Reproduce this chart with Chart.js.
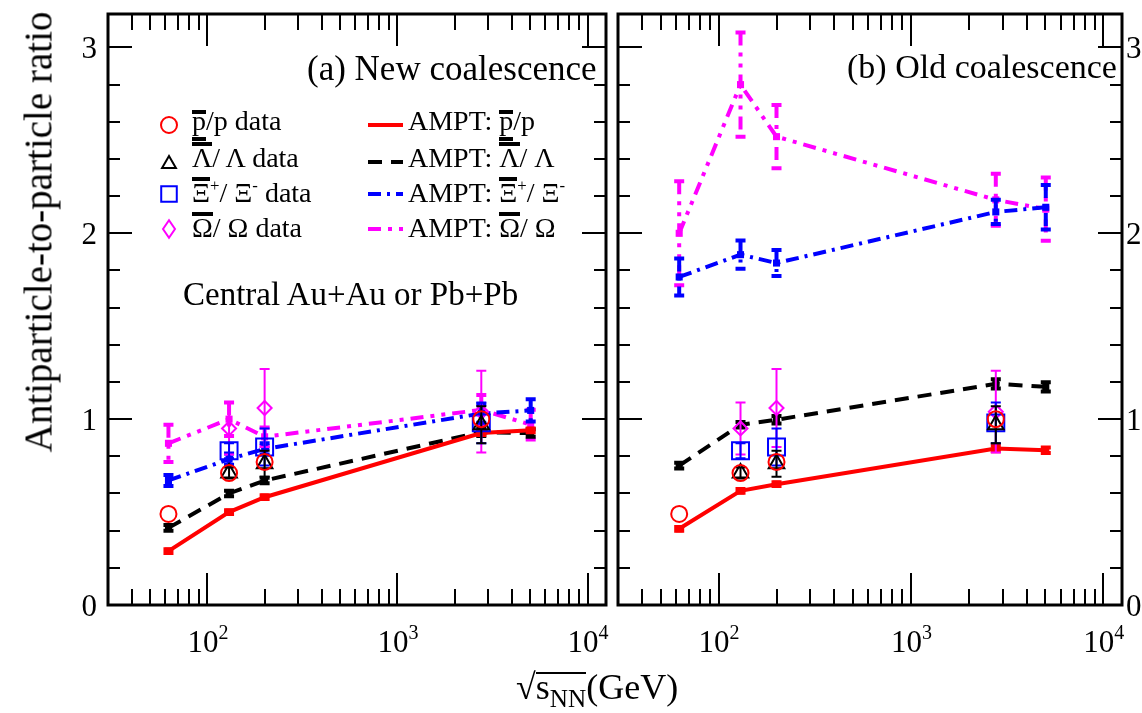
<!DOCTYPE html>
<html>
<head>
<meta charset="utf-8">
<title>Antiparticle-to-particle ratio</title>
<script src="https://cdn.jsdelivr.net/npm/chart.js@4.4.1/dist/chart.umd.min.js"></script>
<style>
  html, body { margin:0; padding:0; background:#fff; }
  body { position:relative; width:1142px; height:713px; overflow:hidden;
         font-family:'Liberation Serif','Times New Roman',serif; color:#000; }
  .panel { position:absolute; top:0; height:713px; }
  #panelA { left:0; width:620px; }
  #panelB { left:604px; width:538px; }
  .txt { position:absolute; white-space:nowrap; line-height:1; }
  .lg { font-size:28px; }
  /* thick bar over a symbol */
  .ob { display:inline-block; line-height:0.85em; border-top:4px solid #000; }
  /* the p-bar gets a bar above and one below, as in the original */
  .obp { display:inline-block; line-height:0.5em; border-top:4px solid #000; border-bottom:4px solid #000; padding-bottom:9px; }
  .root { display:inline-block; line-height:0.75em; border-top:2px solid #000; }
  sup { font-size:60%; vertical-align:0.65em; line-height:0; }
  sub { font-size:70%; vertical-align:-0.3em; line-height:0; }
</style>
</head>
<body>
<div class="panel" id="panelA"><canvas id="chartA"></canvas></div>
<div class="panel" id="panelB"><canvas id="chartB"></canvas></div>

<div class="txt" style="left:307px;top:51px;font-size:35px">(a) New coalescence</div>
<div class="txt" style="left:847px;top:50px;font-size:34px">(b) Old coalescence</div>
<div class="txt" style="left:183px;top:278px;font-size:33px">Central Au+Au or Pb+Pb</div>

<div class="txt lg" style="left:192px;top:107px"><span class="obp">p</span>/p data</div>
<div class="txt lg" style="left:192px;top:142px"><span class="ob">Λ</span>/ Λ data</div>
<div class="txt lg" style="left:192px;top:177px"><span class="ob">Ξ</span><sup>+</sup>/ Ξ<sup>-</sup> data</div>
<div class="txt lg" style="left:192px;top:212px"><span class="ob">Ω</span>/ Ω data</div>
<div class="txt lg" style="left:408px;top:107px">AMPT: <span class="obp">p</span>/p</div>
<div class="txt lg" style="left:408px;top:142px">AMPT: <span class="ob">Λ</span>/ Λ</div>
<div class="txt lg" style="left:408px;top:177px">AMPT: <span class="ob">Ξ</span><sup>+</sup>/ Ξ<sup>-</sup></div>
<div class="txt lg" style="left:408px;top:212px">AMPT: <span class="ob">Ω</span>/ Ω</div>

<div class="txt" style="left:38px;top:232px;font-size:39px;transform:translate(-50%,-50%) rotate(-90deg)">Antiparticle-to-particle ratio</div>
<div class="txt" style="left:516px;top:669px;font-size:36px">√<span class="root">s<sub>NN</sub></span>(GeV)</div>

<script>
// collision energies (GeV)
const energies = [62.4, 130, 200, 2760, 5020];

// measured ratios, same in both panels
const pbarData = [0.49, 0.71, 0.77, 1.0, null];
const pbarErr  = [0, 0, 0, 0, null];
const lamData  = [null, 0.71, 0.76, 0.97, null];
const lamErr   = [null, 0.03, 0.07, 0.1, null];
const xiData   = [null, 0.83, 0.85, 0.98, null];
const xiErr    = [null, 0.04, 0.1, 0.11, null];
const omData   = [null, 0.95, 1.06, 1.04, null];
const omErr    = [null, 0.14, 0.21, 0.22, null];

// AMPT, new coalescence
const newP    = [0.29, 0.50, 0.58, 0.925, 0.94];
const newPErr = [0.01, 0.01, 0.01, 0.01, 0.01];
const newL    = [0.415, 0.60, 0.67, 0.93, 0.925];
const newLErr = [0.015, 0.015, 0.015, 0.02, 0.02];
const newX    = [0.67, 0.785, 0.84, 1.03, 1.047];
const newXErr = [0.03, 0.03, 0.03, 0.05, 0.06];
const newO    = [0.87, 1.0, 0.905, 1.05, 0.97];
const newOErr = [0.1, 0.09, 0.05, 0.08, 0.08];

// AMPT, old coalescence
const oldP    = [0.41, 0.614, 0.65, 0.842, 0.833];
const oldPErr = [0.01, 0.01, 0.01, 0.015, 0.015];
const oldL    = [0.75, 0.97, 0.997, 1.19, 1.174];
const oldLErr = [0.015, 0.015, 0.02, 0.025, 0.025];
const oldX    = [1.765, 1.885, 1.84, 2.115, 2.14];
const oldXErr = [0.1, 0.076, 0.07, 0.065, 0.12];
const oldO    = [2.0, 2.80, 2.52, 2.18, 2.13];
const oldOErr = [0.28, 0.28, 0.17, 0.14, 0.17];

// axes
const yLabels = ['0', '1', '2', '3'];
const yMinorStep = 0.2;
const xMajor = [100, 1000, 10000];
const xExp = ['2', '3', '4'];
const xDecades = [10, 100, 1000, 10000];

const RED = '#ff0000', BLACK = '#000000', BLUE = '#0000ff', MAG = '#ff00ff';
const dashL = [14, 9], dashX = [13, 6, 3, 6], dashO = [13, 7, 4, 7, 4, 7];

function pts(vals) {
  return energies.map((e, i) => ({x: e, y: vals[i]}));
}

function dataSet(label, vals, errs, color, style, r) {
  return {
    label, data: pts(vals), errs, errWidth: 2, cap: 5, showLine: false,
    borderColor: color, backgroundColor: 'rgba(0,0,0,0)',
    pointStyle: style, pointRadius: r, pointBorderWidth: 2,
    pointBorderColor: color, pointBackgroundColor: 'rgba(0,0,0,0)', order: 1
  };
}

function amptSet(label, vals, errs, color, dash) {
  return {
    label, data: pts(vals), errs, errWidth: 4, cap: 5, showLine: true,
    borderColor: color, backgroundColor: color, borderWidth: 4, borderDash: dash,
    pointStyle: 'rect', pointRadius: 5, pointBorderWidth: 0,
    pointBackgroundColor: color, tension: 0, order: 2
  };
}

function dataSets() {
  return [
    dataSet('pbar/p data', pbarData, pbarErr, RED, 'circle', 8),
    dataSet('Lambda data', lamData, lamErr, BLACK, 'triangle', 9),
    dataSet('Xi data', xiData, xiErr, BLUE, 'rect', 12),
    dataSet('Omega data', omData, omErr, MAG, 'rectRot', 7)
  ];
}

const errorBars = {
  id: 'errorBars',
  afterDatasetDraw(chart, args) {
    const ds = chart.data.datasets[args.index];
    if (!ds.errs) return;
    const {ctx, chartArea: a} = chart;
    const ys = chart.scales.y;
    ctx.save();
    ctx.beginPath(); ctx.rect(a.left, a.top, a.width, a.height); ctx.clip();
    ctx.strokeStyle = ds.borderColor;
    ctx.lineWidth = ds.errWidth;
    args.meta.data.forEach((pt, i) => {
      const v = ds.data[i].y, e = ds.errs[i];
      if (v == null || !e) return;
      const top = ys.getPixelForValue(v + e), bot = ys.getPixelForValue(v - e);
      ctx.setLineDash(ds.borderDash || []);
      ctx.beginPath(); ctx.moveTo(pt.x, top); ctx.lineTo(pt.x, bot); ctx.stroke();
      ctx.setLineDash([]);
      ctx.beginPath();
      ctx.moveTo(pt.x - ds.cap, top); ctx.lineTo(pt.x + ds.cap, top);
      ctx.moveTo(pt.x - ds.cap, bot); ctx.lineTo(pt.x + ds.cap, bot);
      ctx.stroke();
    });
    ctx.restore();
  }
};

// frame with inward ticks and tick labels
const frame = {
  id: 'frame',
  afterDraw(chart, args, opts) {
    const {ctx, chartArea: a, scales: {x, y}} = chart;
    ctx.save();
    ctx.strokeStyle = '#000';
    ctx.lineWidth = 2;
    ctx.beginPath();
    xDecades.forEach(d => {
      for (let k = 1; k <= 9; k++) {
        const v = d * k;
        if (v <= x.min || v >= x.max) continue;
        const px = Math.round(x.getPixelForValue(v));
        const len = k === 1 ? 32 : 16;
        ctx.moveTo(px, a.bottom); ctx.lineTo(px, a.bottom - len);
        ctx.moveTo(px, a.top); ctx.lineTo(px, a.top + len);
      }
    });
    for (let i = 1; i * yMinorStep < y.max; i++) {
      const py = Math.round(y.getPixelForValue(i * yMinorStep));
      const len = i % 5 === 0 ? 24 : 12;
      ctx.moveTo(a.left, py); ctx.lineTo(a.left + len, py);
      ctx.moveTo(a.right, py); ctx.lineTo(a.right - len, py);
    }
    ctx.stroke();
    ctx.lineWidth = 3;
    ctx.strokeRect(a.left, a.top, a.width, a.height);

    ctx.fillStyle = '#000';
    ctx.textBaseline = 'alphabetic';
    ctx.font = '31px "Liberation Serif"';
    yLabels.forEach(t => {
      const py = y.getPixelForValue(Number(t)) + 10.5;
      if (opts.side === 'left') { ctx.textAlign = 'right'; ctx.fillText(t, a.left - 11, py); }
      else { ctx.textAlign = 'left'; ctx.fillText(t, a.right + 4, py); }
    });
    ctx.textAlign = 'left';
    xMajor.forEach((m, i) => {
      const px = x.getPixelForValue(m);
      ctx.font = '31px "Liberation Serif"';
      const w = ctx.measureText('10').width;
      ctx.fillText('10', px - 20, 652);
      ctx.font = '20px "Liberation Serif"';
      ctx.fillText(xExp[i], px - 20 + w, 639);
    });
    ctx.restore();
  }
};

function mark(ctx, style, x, y, r) {
  ctx.beginPath();
  if (style === 'circle') ctx.arc(x, y, r, 0, 2 * Math.PI);
  else if (style === 'triangle') {
    ctx.moveTo(x, y - r); ctx.lineTo(x + r * 0.866, y + r * 0.5); ctx.lineTo(x - r * 0.866, y + r * 0.5); ctx.closePath();
  } else if (style === 'rect') {
    const s = r * Math.SQRT1_2; ctx.rect(x - s, y - s, 2 * s, 2 * s);
  } else {
    ctx.moveTo(x - r * 0.75, y); ctx.lineTo(x, y - r * 1.1); ctx.lineTo(x + r * 0.75, y); ctx.lineTo(x, y + r * 1.1); ctx.closePath();
  }
  ctx.stroke();
}

const legendMarks = {
  id: 'legendMarks',
  afterDraw(chart) {
    const ctx = chart.ctx;
    const rows = [125, 162, 194, 229];
    const ds = chart.data.datasets;
    ctx.save();
    for (let i = 0; i < 4; i++) {
      const d = ds[i], l = ds[i + 4];
      ctx.strokeStyle = d.pointBorderColor;
      ctx.lineWidth = 2;
      ctx.setLineDash([]);
      mark(ctx, d.pointStyle, 169, rows[i] + (d.pointStyle === 'triangle' ? 2 : 0), d.pointStyle === 'rect' ? 11 : 8);
      ctx.strokeStyle = l.borderColor;
      ctx.lineWidth = 4;
      ctx.setLineDash(l.borderDash || []);
      ctx.beginPath(); ctx.moveTo(368, rows[i]); ctx.lineTo(403, rows[i]); ctx.stroke();
    }
    ctx.restore();
  }
};

function makeChart(id, ampt, side, pad, extra) {
  return new Chart(document.getElementById(id), {
    type: 'scatter',
    data: {
      datasets: dataSets().concat([
        amptSet('AMPT: pbar/p', ampt[0], ampt[1], RED, []),
        amptSet('AMPT: Lambda', ampt[2], ampt[3], BLACK, dashL),
        amptSet('AMPT: Xi', ampt[4], ampt[5], BLUE, dashX),
        amptSet('AMPT: Omega', ampt[6], ampt[7], MAG, dashO)
      ])
    },
    options: {
      responsive: true,
      maintainAspectRatio: false,
      animation: false,
      layout: {padding: pad},
      scales: {
        x: {type: 'logarithmic', min: 30, max: 12500, display: false},
        y: {type: 'linear', min: 0, max: 3.18, display: false}
      },
      plugins: {
        legend: {display: false},
        tooltip: {enabled: false},
        frame: {side}
      }
    },
    plugins: [errorBars, frame].concat(extra)
  });
}

makeChart('chartA', [newP, newPErr, newL, newLErr, newX, newXErr, newO, newOErr], 'left',
  {left: 108, right: 8, top: 8, bottom: 108}, [legendMarks]);
makeChart('chartB', [oldP, oldPErr, oldL, oldLErr, oldX, oldXErr, oldO, oldOErr], 'right',
  {left: 8, right: 20, top: 8, bottom: 108}, []);
</script>
</body>
</html>
